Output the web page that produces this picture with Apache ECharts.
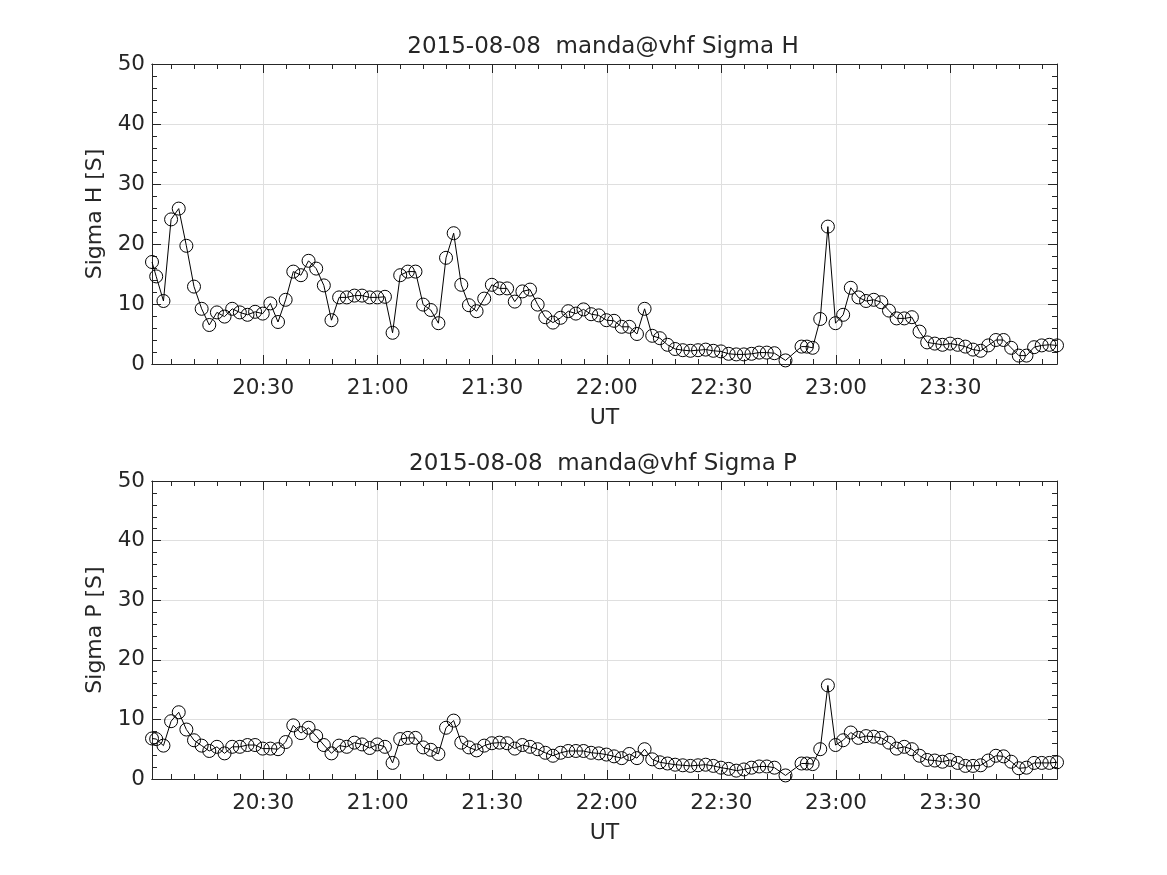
<!DOCTYPE html>
<html><head><meta charset="utf-8">
<script src="https://cdn.jsdelivr.net/npm/echarts@6/dist/echarts.min.js"></script>
<style>html,body{margin:0;padding:0;background:#fff}#c{width:1167px;height:875px}</style>
</head><body><div id="c"></div><script>
// sample times, minutes after 20:00 UT
const times = [0.9, 2.0, 3.9, 5.9, 7.9, 9.9, 11.9, 13.9, 15.9, 17.9, 19.9, 21.9, 23.9, 25.9, 27.9, 29.9, 31.9, 33.9, 35.9, 37.9,
  39.9, 41.9, 43.9, 45.9, 47.9, 49.9, 51.9, 53.9, 55.9, 57.9, 59.9, 61.9, 63.9, 65.9, 67.9, 69.9, 71.9, 73.9, 75.9, 77.9,
  79.9, 81.9, 83.9, 85.9, 87.9, 89.9, 91.9, 93.9, 95.9, 97.9, 99.9, 101.9, 103.9, 105.9, 107.9, 109.9, 111.9, 113.9, 115.9, 117.9,
  119.9, 121.9, 123.9, 125.9, 127.9, 129.9, 131.9, 133.9, 135.9, 137.9, 139.9, 141.9, 143.9, 145.9, 147.9, 149.9, 151.9, 153.9, 155.9, 157.9,
  159.9, 161.9, 163.9, 166.8, 171.0, 172.4, 173.9, 175.9, 177.9, 179.9, 181.9, 183.9, 185.9, 187.9, 189.9, 191.9, 193.9, 195.9, 197.9,
  199.9, 201.9, 203.9, 205.9, 207.9, 209.9, 211.9, 213.9, 215.9, 217.9, 219.9, 221.9, 223.9, 225.9, 227.9, 229.9, 231.9, 233.9, 235.9, 237.9];
const sigmaH = [17.0, 14.6, 10.5, 24.1, 25.9, 19.7, 12.9, 9.2, 6.5, 8.6, 7.9, 9.2, 8.6, 8.2, 8.7, 8.4, 10.1, 7.0, 10.7, 15.4,
  14.8, 17.2, 15.9, 13.1, 7.3, 11.1, 11.1, 11.4, 11.4, 11.1, 11.1, 11.2, 5.2, 14.8, 15.4, 15.4, 9.9, 9.0, 6.8, 17.7,
  21.8, 13.2, 9.8, 8.8, 10.9, 13.2, 12.6, 12.6, 10.4, 12.1, 12.4, 9.9, 7.8, 6.9, 7.7, 8.8, 8.4, 9.1, 8.3, 8.1,
  7.3, 7.2, 6.2, 6.2, 5.0, 9.2, 4.7, 4.3, 3.2, 2.5, 2.3, 2.2, 2.3, 2.4, 2.2, 2.1, 1.7, 1.6, 1.6, 1.7,
  1.9, 1.9, 1.8, 0.6, 2.9, 2.9, 2.7, 7.5, 22.9, 6.8, 8.2, 12.7, 11.1, 10.5, 10.7, 10.3, 8.9, 7.6, 7.6,
  7.8, 5.4, 3.6, 3.4, 3.2, 3.4, 3.2, 2.9, 2.4, 2.2, 3.1, 4.0, 4.0, 2.7, 1.4, 1.4, 2.8, 3.1, 3.2, 3.1];
const sigmaP = [6.8, 6.7, 5.6, 9.7, 11.2, 8.3, 6.5, 5.6, 4.7, 5.4, 4.3, 5.4, 5.4, 5.7, 5.7, 5.1, 5.1, 5.0, 6.2, 9.0,
  7.7, 8.6, 7.2, 5.7, 4.3, 5.6, 5.4, 6.1, 5.8, 5.2, 5.8, 5.4, 2.7, 6.7, 6.9, 6.9, 5.3, 4.9, 4.2, 8.6,
  9.8, 6.1, 5.3, 4.8, 5.6, 6.0, 6.1, 6.0, 5.1, 5.7, 5.4, 5.0, 4.4, 3.9, 4.4, 4.7, 4.7, 4.7, 4.4, 4.3,
  4.1, 3.8, 3.5, 4.2, 3.5, 5.0, 3.3, 2.8, 2.6, 2.4, 2.3, 2.2, 2.3, 2.4, 2.2, 1.9, 1.7, 1.4, 1.6, 1.9,
  2.1, 2.1, 1.9, 0.6, 2.6, 2.6, 2.5, 5.0, 15.7, 5.7, 6.5, 7.8, 6.9, 7.2, 7.1, 6.9, 6.1, 5.1, 5.4,
  5.0, 3.9, 3.2, 3.1, 2.9, 3.2, 2.7, 2.2, 2.2, 2.3, 3.1, 3.9, 3.8, 2.9, 1.8, 1.9, 2.7, 2.7, 2.7, 2.8];
const xMajorTicks = [30, 60, 90, 120, 150, 180, 210];
const xMajorLabels = ['20:30', '21:00', '21:30', '22:00', '22:30', '23:00', '23:30'];
const xMinorStep = 6;
const titles = ['2015-08-08  manda@vhf Sigma H', '2015-08-08  manda@vhf Sigma P'];
const yNames = ['Sigma H [S]', 'Sigma P [S]'];
const xName = 'UT';
const yMin = 0, yMax = 50, yStep = 10;

const FONT = 'DejaVu Sans';
const AX = '#262626';
const GRIDC = '#dfdfdf';
const xMin = times[0], xMax = times[times.length - 1];
const xMinorTicks = [];
for (let m = xMinorStep; m < xMax; m += xMinorStep) if (m > xMin && xMajorTicks.indexOf(m) < 0) xMinorTicks.push(m);

const gridTops = [64, 481];
const gridH = [300, 298];
const grids = [], xAxes = [], yAxes = [], series = [], titleArr = [];
const seriesData = [sigmaH, sigmaP];

for (let g = 0; g < 2; g++) {
  grids.push({left: 152, right: 110, top: gridTops[g], height: gridH[g], containLabel: false});
  titleArr.push({text: titles[g], left: 598, textAlign: 'center', top: gridTops[g] - 33,
    textStyle: {fontFamily: FONT, fontSize: 23, fontWeight: 'normal', color: AX}});
  const base = {type: 'value', gridIndex: g, min: xMin, max: xMax, splitLine: {show: false},
    axisLine: {show: true, lineStyle: {color: AX, width: 1}}};
  xAxes.push(Object.assign({}, base, {position: 'bottom',
    name: xName, nameLocation: 'middle', nameGap: 43,
    nameTextStyle: {fontFamily: FONT, fontSize: 22, color: AX},
    axisTick: {show: true, inside: true, length: 9, customValues: xMajorTicks, lineStyle: {color: AX}},
    axisLabel: {show: true, customValues: xMajorTicks, margin: 13, fontFamily: FONT, fontSize: 21.5, color: AX,
      formatter: v => { const k = xMajorTicks.indexOf(Math.round(v)); return k >= 0 ? xMajorLabels[k] : ''; }},
    splitLine: {show: true, lineStyle: {color: GRIDC, width: 1}}}));
  xAxes.push(Object.assign({}, base, {position: 'bottom',
    axisTick: {show: true, inside: true, length: 5, customValues: xMinorTicks, lineStyle: {color: AX}},
    axisLabel: {show: false}}));
  xAxes.push(Object.assign({}, base, {position: 'top',
    axisTick: {show: true, inside: true, length: 9, customValues: xMajorTicks, lineStyle: {color: AX}},
    axisLabel: {show: false}}));
  xAxes.push(Object.assign({}, base, {position: 'top',
    axisTick: {show: true, inside: true, length: 5, customValues: xMinorTicks, lineStyle: {color: AX}},
    axisLabel: {show: false}}));
  const ybase = {type: 'value', gridIndex: g, min: yMin, max: yMax, interval: yStep,
    axisLine: {show: true, lineStyle: {color: AX, width: 1}},
    axisTick: {show: true, inside: true, length: 9, lineStyle: {color: AX}},
    minorTick: {show: true, splitNumber: 5, length: 5, lineStyle: {color: AX}}};
  yAxes.push(Object.assign({}, ybase, {position: 'left',
    name: yNames[g], nameLocation: 'middle', nameGap: 43, nameRotate: 90,
    nameTextStyle: {fontFamily: FONT, fontSize: 22, color: AX},
    axisLabel: {show: true, margin: 7, fontFamily: FONT, fontSize: 21.5, color: AX},
    splitLine: {show: true, lineStyle: {color: GRIDC, width: 1}}}));
  yAxes.push(Object.assign({}, ybase, {position: 'right', axisLabel: {show: false}, splitLine: {show: false}}));
  series.push({type: 'line', xAxisIndex: g * 4, yAxisIndex: g * 2, clip: false,
    data: times.map((t, i) => [t, seriesData[g][i]]),
    symbol: 'circle', symbolSize: 13, showSymbol: true,
    lineStyle: {color: '#000', width: 1},
    itemStyle: {color: 'rgba(0,0,0,0)', borderColor: '#000', borderWidth: 1},
    emphasis: {disabled: true}, animation: false, z: 5});
}

const chart = echarts.init(document.getElementById('c'), null, {renderer: 'canvas'});
chart.setOption({animation: false, backgroundColor: '#fff', title: titleArr, grid: grids,
  xAxis: xAxes, yAxis: yAxes, series: series});
</script></body></html>
